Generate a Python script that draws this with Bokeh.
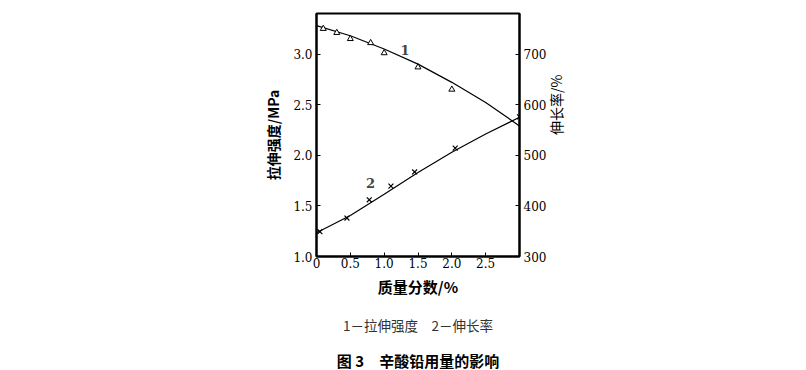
import math
from bokeh.plotting import figure
from bokeh.models import Range1d, LinearAxis, FixedTicker, Label, NumeralTickFormatter, Title
from bokeh.embed import file_html
from bokeh.resources import INLINE

# Curve 1: tensile strength (MPa), left axis
ts_x = [0.1, 0.3, 0.5, 0.8, 1.0, 1.5, 2.0]
ts_y = [3.25, 3.21, 3.15, 3.11, 3.01, 2.87, 2.65]
ts_fit_x = [0.0, 0.5, 1.0, 1.5, 2.0, 2.5, 3.0]
ts_fit_y = [3.28, 3.18, 3.05, 2.90, 2.72, 2.52, 2.29]

# Curve 2: elongation (%), right axis
el_x = [0.05, 0.45, 0.78, 1.1, 1.45, 2.05, 3.0]
el_y = [349, 376, 412, 439, 467, 514, 576]
el_fit_x = [0.0, 0.5, 1.0, 1.5, 2.0, 2.5, 3.0]
el_fit_y = [347, 381, 423, 466, 506, 542, 575]

x_ticks = [0.5, 1.0, 1.5, 2.0, 2.5]
left_ticks = [1.0, 1.5, 2.0, 2.5, 3.0]
right_ticks = [300, 400, 500, 600, 700]

SERIF = "DejaVu Serif"
CJK = "Noto Sans CJK SC"

p = figure(width=798, height=370, output_backend="svg", toolbar_location=None,
           x_range=Range1d(0, 3.0), y_range=Range1d(1.0, 3.4),
           min_border_left=316, min_border_right=279, min_border_top=13, min_border_bottom=112)
p.extra_y_ranges = {"el": Range1d(300, 780)}
p.xgrid.visible = False
p.ygrid.visible = False
p.outline_line_color = "black"
p.outline_line_width = 2
p.background_fill_color = "white"
p.border_fill_color = "white"

def style_axis(ax):
    ax.axis_line_color = "black"
    ax.axis_line_width = 2
    ax.major_tick_in = 4
    ax.major_tick_out = 0
    ax.minor_tick_line_color = None
    ax.major_tick_line_color = "black"
    ax.major_label_text_font = SERIF
    ax.major_label_text_font_size = "12px"
    ax.major_label_text_color = "black"
    ax.major_label_standoff = 4
    ax.axis_label_text_font = CJK
    ax.axis_label_text_font_size = "14px"
    ax.axis_label_text_color = "black"
    ax.axis_label_standoff = 7

xa = p.xaxis[0]
style_axis(xa)
xa.ticker = FixedTicker(ticks=[0.0] + x_ticks)
xa.formatter = NumeralTickFormatter(format="0.0")
xa.major_label_overrides = {0: "0"}
xa.major_label_standoff = 1
xa.axis_label = "质量分数/%"
xa.axis_label_text_font_style = "bold"
xa.axis_label_text_font_size = "15px"
xa.axis_label_standoff = 5

ya = p.yaxis[0]
style_axis(ya)
ya.ticker = FixedTicker(ticks=left_ticks)
ya.formatter = NumeralTickFormatter(format="0.0")
ya.axis_label = "拉伸强度/MPa"
ya.axis_label_text_font_style = "bold"

ra = LinearAxis(y_range_name="el", ticker=FixedTicker(ticks=right_ticks))
style_axis(ra)
ra.axis_label = "伸长率/%"
ra.axis_label_text_font_style = "normal"
ra.axis_label_standoff = 7
try:
    ra.axis_label_orientation = math.pi / 2
except Exception:
    pass
p.add_layout(ra, "right")

# curves
p.line(ts_fit_x, ts_fit_y, line_color="black", line_width=1.2)
p.scatter(ts_x, ts_y, marker="triangle", size=6, line_color="black", fill_color="white", line_width=1)
p.line(el_fit_x, el_fit_y, line_color="black", line_width=1.2, y_range_name="el")
p.scatter(el_x, el_y, marker="x", size=7, line_color="black", line_width=1.2, y_range_name="el")

p.add_layout(Label(x=1.31, y=3.04, text="1", text_font=SERIF, text_font_style="bold",
                   text_font_size="13px", text_align="center", text_baseline="middle"))
p.add_layout(Label(x=0.80, y=1.73, text="2", text_font=SERIF, text_font_style="bold",
                   text_font_size="13px", text_align="center", text_baseline="middle"))

# captions below the chart
cap1 = Title(text="1－拉伸强度　2－伸长率", align="center", text_font=CJK,
             text_font_size="13.5px", text_font_style="normal", text_color="#333333", standoff=26)
cap2 = Title(text="图 3　辛酸铅用量的影响", align="center", text_font=CJK,
             text_font_size="15px", text_font_style="bold", text_color="black", standoff=0)
p.add_layout(cap1, "below")
p.add_layout(cap2, "below")

open("out.html", "w").write(file_html(p, INLINE))
